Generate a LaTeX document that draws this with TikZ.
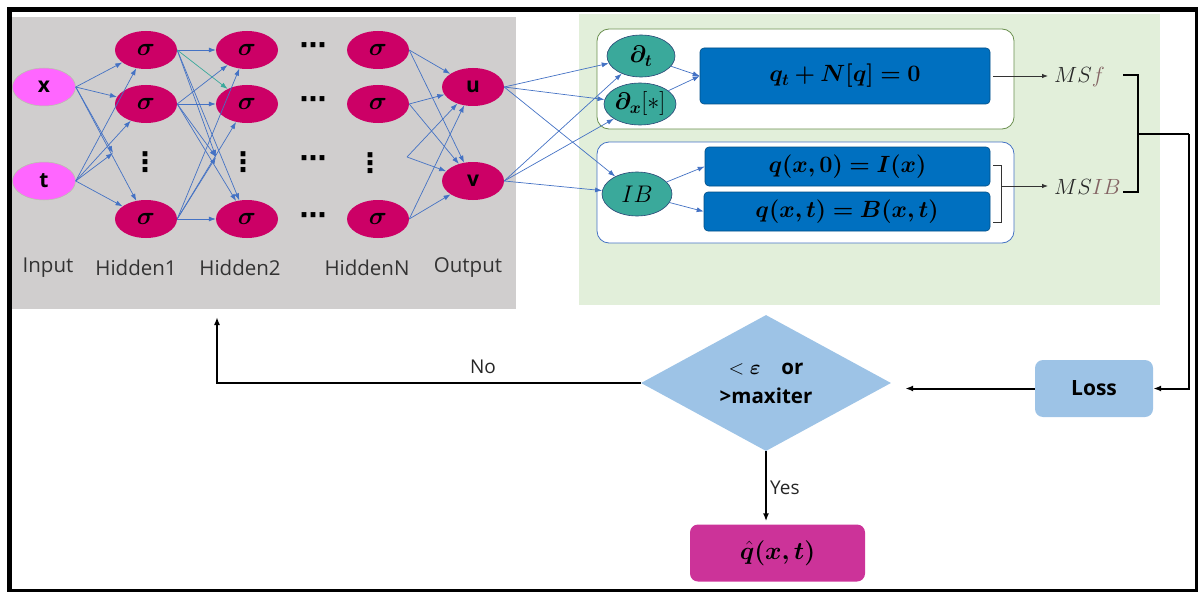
\RequirePackage{fix-cm}
\documentclass[tikz,border=0pt]{standalone}
\usepackage{fontspec}
\usepackage{amsmath}
\usepackage{bm}
\usetikzlibrary{shapes.geometric,arrows.meta}
\newfontfamily\lbl{Open Sans}
\newfontfamily\symfont{DejaVu Sans}
\definecolor{panelgray}{HTML}{D0CECE}
\definecolor{panelgreen}{HTML}{E2EFDA}
\definecolor{neuronred}{HTML}{CC0066}
\definecolor{inpink}{HTML}{FF66FF}
\definecolor{netblue}{HTML}{4472C4}
\definecolor{opteal}{HTML}{3AA99B}
\definecolor{eqblue}{HTML}{0070C0}
\definecolor{lossblue}{HTML}{9DC3E6}
\definecolor{outmag}{HTML}{CC3399}
\definecolor{boxolive}{HTML}{6A8F4E}
\definecolor{msbrown}{HTML}{846464}
\begin{document}
\begin{tikzpicture}[x=1pt,y=-1pt,
  neuron/.style={ellipse, fill=neuronred, minimum width=62pt, minimum height=38pt, inner sep=0pt, font=\fontsize{25}{25}\selectfont},
  inputnode/.style={ellipse, fill=inpink, draw=boxolive!50, line width=0.5pt, minimum width=63pt, minimum height=38pt, inner sep=0pt, font=\lbl\bfseries\fontsize{21}{21}\selectfont},
  outnode/.style={neuron, font=\lbl\bfseries\fontsize{21}{21}\selectfont},
  layerlabel/.style={font=\lbl\fontsize{20.5}{20.5}\selectfont, text=black!80, inner sep=0pt},
  vdotsnode/.style={font=\symfont\bfseries\fontsize{27}{27}\selectfont, inner sep=0pt},
  hdotsnode/.style={font=\symfont\bfseries\fontsize{27}{27}\selectfont, inner sep=0pt},
  net/.style={draw=netblue, line width=0.7pt, -{Latex[length=7pt,width=5pt]}},
  opnode/.style={ellipse, fill=opteal, draw=netblue!60!black, line width=0.6pt, inner sep=0pt, font=\fontsize{24}{24}\selectfont},
  eqbox/.style={rectangle, rounded corners=4pt, fill=eqblue, draw=eqblue!70!black, line width=0.6pt, inner sep=0pt, font=\fontsize{23.5}{23.5}\selectfont},
  container/.style={rectangle, rounded corners=12pt, fill=white, line width=0.8pt, inner sep=0pt},
  mslabel/.style={font=\fontsize{22}{22}\selectfont, text=black!85, inner sep=2pt},
  thinarrow/.style={draw=black!80, line width=0.8pt, -{Latex[length=6pt,width=4.5pt]}},
  flow/.style={draw=black, line width=2pt, -{Latex[length=8pt,width=6pt]}},
  flowtext/.style={font=\lbl\fontsize{19}{19}\selectfont, text=black!85, inner sep=0pt},
  bluebox/.style={rectangle, rounded corners=8pt, fill=lossblue, inner sep=0pt, font=\lbl\bfseries\fontsize{21}{21}\selectfont},
]
\useasboundingbox (0,0) rectangle (1198,591);

% panels
\fill[panelgray] (12,17) rectangle (516,309);
\fill[panelgreen] (579,14) rectangle (1160,305);

% ---------------- network ----------------
\node[inputnode] (x) at (44,87) {x};
\node[inputnode] (t) at (44,181) {t};

\node[neuron] (h1a) at (146,50)  {$\bm\sigma$};
\node[neuron] (h1b) at (146,104) {$\bm\sigma$};
\node[vdotsnode] (h1d) at (145,162) {⋮};
\node[neuron] (h1c) at (146,219) {$\bm\sigma$};

\node[neuron] (h2a) at (247,50)  {$\bm\sigma$};
\node[neuron] (h2b) at (247,104) {$\bm\sigma$};
\node[vdotsnode] (h2d) at (243,162) {⋮};
\node[neuron] (h2c) at (247,219) {$\bm\sigma$};

\node[hdotsnode] (c1) at (313,49)  {⋯};
\node[hdotsnode] (c2) at (313,103) {⋯};
\node[hdotsnode] (c3) at (313,162) {⋯};
\node[hdotsnode] (c4) at (313,219) {⋯};

\node[neuron] (hNa) at (378,50)  {$\bm\sigma$};
\node[neuron] (hNb) at (378,104) {$\bm\sigma$};
\node[vdotsnode] (hNd) at (370,163) {⋮};
\node[neuron] (hNc) at (378,219) {$\bm\sigma$};

\node[outnode] (u) at (473,87) {u};
\node[outnode] (v) at (473,181) {v};

\coordinate (v1) at (113,153);
\coordinate (v2) at (216,157);
\coordinate (vN) at (407,157);

\node[layerlabel] (l0) at (48,268)  {Input};
\node[layerlabel] (l1) at (136,268) {Hidden1};
\node[layerlabel] (l2) at (240,268) {Hidden2};
\node[layerlabel] (l3) at (367,268) {HiddenN};
\node[layerlabel] (l4) at (468,268) {Output};

\foreach \s in {x,t}{
  \foreach \d in {h1a,h1b,h1c}{ \draw[net] (\s.east) -- (\d); }
  \draw[net] (\s.east) -- (v1);
}
\foreach \s in {h1a,h1b,h1c}{
  \foreach \d in {h2a,h2c}{ \draw[net] (\s.east) -- (\d); }
  \draw[net] (\s.east) -- (v2);
}
\draw[net] (h1b.east) -- (h2b);
\draw[net] (h1c.east) -- (h2b);
\draw[net, draw=opteal] (h1a.east) -- (h2b);
\foreach \s in {hNa.east,hNb.east,hNc.east,vN}{
  \draw[net] (\s) -- (u);
  \draw[net] (\s) -- (v);
}

% ---------------- residual / conditions ----------------
\node[container, draw=boxolive, minimum width=417pt, minimum height=100pt] (pdebox) at (805.5,79) {};
\node[container, draw=netblue, minimum width=417pt, minimum height=101pt] (ibbox) at (805.5,192.5) {};

\node[opnode, minimum width=68pt, minimum height=42pt] (dt) at (641,56) {$\bm{\partial_t}$};
\node[opnode, minimum width=72pt, minimum height=42pt] (dx) at (640,104) {$\bm{\partial_x}[*]$};
\node[opnode, minimum width=70pt, minimum height=44pt] (ib) at (637,194) {$IB$};

\node[eqbox, minimum width=290pt, minimum height=56pt] (qr) at (845,76) {$\bm{q_t + N[q] = 0}$};
\node[eqbox, minimum width=285pt, minimum height=39pt] (q0) at (847.5,166.5) {$\bm{q(x,0) = I(x)}$};
\node[eqbox, minimum width=286pt, minimum height=39pt] (qt) at (847,211.5) {$\bm{q(x,t) = B(x,t)}$};

\foreach \s in {u,v}{
  \foreach \d in {dt,dx,ib}{ \draw[net] (\s.east) -- (\d); }
}
\draw[net] (dt) -- (qr.west);
\draw[net] (dx) -- (qr.west);
\draw[net] (ib) -- (q0.west);
\draw[net] (ib) -- (qt.west);

\node[mslabel, anchor=west] (msf) at (1052,77) {$MS{\color{msbrown}f}$};
\node[mslabel, anchor=west] (msib) at (1052,187) {$MS{\color{msbrown}IB}$};

\draw[thinarrow, shorten <=3pt, shorten >=4pt] (qr.east) -- (qr.east -| msf.west);
\coordinate (sb) at (1001,186);
\draw[black!80, line width=0.8pt] (993,165) -- (1001,165) -- (1001,222) -- (993,222);
\draw[thinarrow, shorten >=4pt] (sb) -- (sb -| msib.west);

% loss bracket
\coordinate (join) at (1138,134);
\coordinate (rt) at (1189,134);
\draw[line width=2.5pt] (1123,75) -- (1138,75) -- (1138,192) -- (1123,192);

% ---------------- training loop ----------------
\node[bluebox, minimum width=118pt, minimum height=57pt] (loss) at (1094,388.5) {Loss};
\node[diamond, fill=lossblue, minimum width=250pt, minimum height=136pt, aspect=1.84, inner sep=0pt,
      align=center, font=\lbl\bfseries\fontsize{20.5}{29}\selectfont] (dec) at (766,383)
      {$<\bm{\varepsilon}$\quad or\\>maxiter};
\node[rectangle, rounded corners=8pt, fill=outmag, minimum width=175pt, minimum height=57pt, inner sep=0pt,
      font=\fontsize{25}{25}\selectfont] (qhat) at (777.5,553) {$\bm{\hat q(x,t)}$};

\draw[line width=2pt] (join) -- (rt);
\draw[flow] (rt) |- (loss.east);
\draw[flow, shorten >=14pt] (loss.west) -- (loss.west -| dec.east);
\coordinate (back) at (217,317);
\draw[flow] (dec.west) -| (back);
\node[flowtext] (nolbl) at (483,367) {No};
\draw[flow, shorten >=3pt] (dec.south) -- (dec.south |- qhat.north);
\node[flowtext, anchor=west] (yeslbl) at (770,488) {Yes};

% outer frame
\draw[line width=5pt] (9.5,9.5) rectangle (1197.5,591.5);
\end{tikzpicture}
\end{document}
